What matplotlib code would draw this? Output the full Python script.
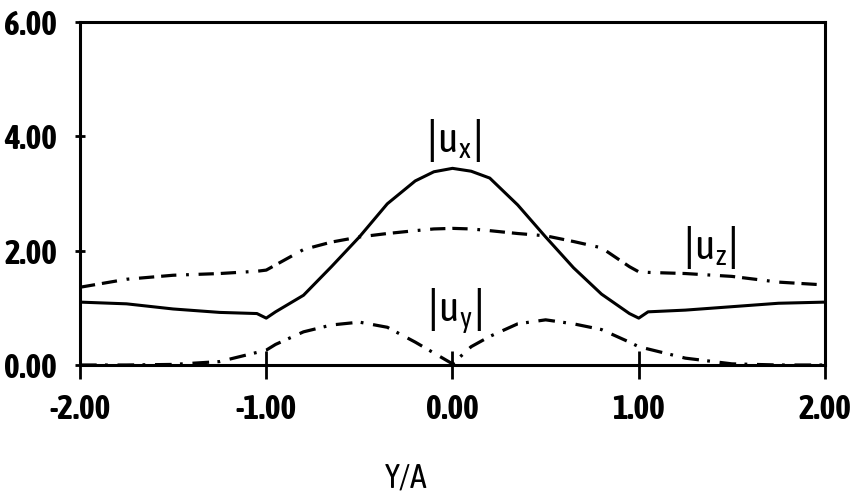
import numpy as np
import matplotlib
matplotlib.use('Agg')
import matplotlib.pyplot as plt
from matplotlib import font_manager

# values
y_over_a = [-2.0, -1.75, -1.5, -1.25, -1.05, -1.0, -0.95, -0.8, -0.65, -0.5, -0.35, -0.2, -0.1,
            0.0, 0.1, 0.2, 0.35, 0.5, 0.65, 0.8, 0.95, 1.0, 1.05, 1.25, 1.5, 1.75, 2.0]
ux = [1.10, 1.07, 0.98, 0.92, 0.90, 0.82, 0.93, 1.22, 1.72, 2.24, 2.82, 3.22, 3.38,
      3.44, 3.39, 3.27, 2.80, 2.24, 1.70, 1.24, 0.90, 0.82, 0.93, 0.96, 1.02, 1.08, 1.10]
uz = [1.36, 1.50, 1.57, 1.60, 1.64, 1.66, 1.75, 2.02, 2.15, 2.24, 2.30, 2.35, 2.38,
      2.39, 2.38, 2.35, 2.30, 2.26, 2.16, 2.05, 1.72, 1.63, 1.62, 1.60, 1.55, 1.45, 1.40]
uy = [0.0, 0.0, 0.01, 0.06, 0.22, 0.26, 0.36, 0.58, 0.70, 0.75, 0.66, 0.40, 0.21,
      0.02, 0.32, 0.50, 0.72, 0.79, 0.72, 0.62, 0.40, 0.32, 0.28, 0.12, 0.02, 0.0, 0.0]

xticks = [-2.0, -1.0, 0.0, 1.0, 2.0]
yticks = [0.0, 2.0, 4.0, 6.0]


def weight_num(w):
    if isinstance(w, (int, float)):
        return w
    return font_manager.weight_dict.get(w, 400)


# narrow font if there is one (one with a bold face first), otherwise DejaVu
fams = {}
for f in font_manager.fontManager.ttflist:
    if 'Narrow' in f.name or 'Condensed' in f.name or 'condensed' in str(f.stretch):
        fams.setdefault(f.name, []).append(weight_num(f.weight))
narrow = sorted(fams, key=lambda n: -max(fams[n]))
plt.rcParams['font.family'] = narrow[:1] + ['DejaVu Sans']
plt.rcParams['font.stretch'] = 'condensed'
plt.rcParams['lines.scale_dashes'] = False

fig = plt.figure(figsize=(8.65, 4.96), dpi=100)
ax = fig.add_axes([80/865, 1 - 365/496, 745/865, 343/496])

ax.plot(y_over_a, ux, color='black', lw=2.2)
ax.plot(y_over_a, uz, color='black', lw=2.3, dashes=(11, 5, 11, 7, 2, 7))
ax.plot(y_over_a, uy, color='black', lw=2.3, dashes=(12, 6, 2, 7))

ax.text(0.0, 3.93, r'$|$u$_\mathregular{x}|$', fontsize=30, ha='center', va='center')
ax.text(1.38, 2.06, r'$|$u$_\mathregular{z}|$', fontsize=30, ha='center', va='center')
ax.text(0.01, 0.94, r'$|$u$_\mathregular{y}|$', fontsize=30, ha='center', va='center')

ax.set_xlim(-2, 2)
ax.set_ylim(0, 6)
ax.set_xticks(xticks)
ax.set_yticks(yticks)
ax.set_xticklabels(['%.2f' % v for v in xticks], fontweight='bold', fontsize=24)
ax.set_yticklabels(['%.2f' % v for v in yticks], fontweight='bold', fontsize=24)
ax.tick_params(axis='x', direction='inout', length=20, width=2, pad=10)
ax.tick_params(axis='y', direction='inout', length=7, width=2, pad=13)
for s in ax.spines.values():
    s.set_linewidth(2.2)

ax.text(0.4376, -0.33, 'Y/A', transform=ax.transAxes, fontsize=24, ha='center', va='center')

fig.savefig('out.png', dpi=100)
